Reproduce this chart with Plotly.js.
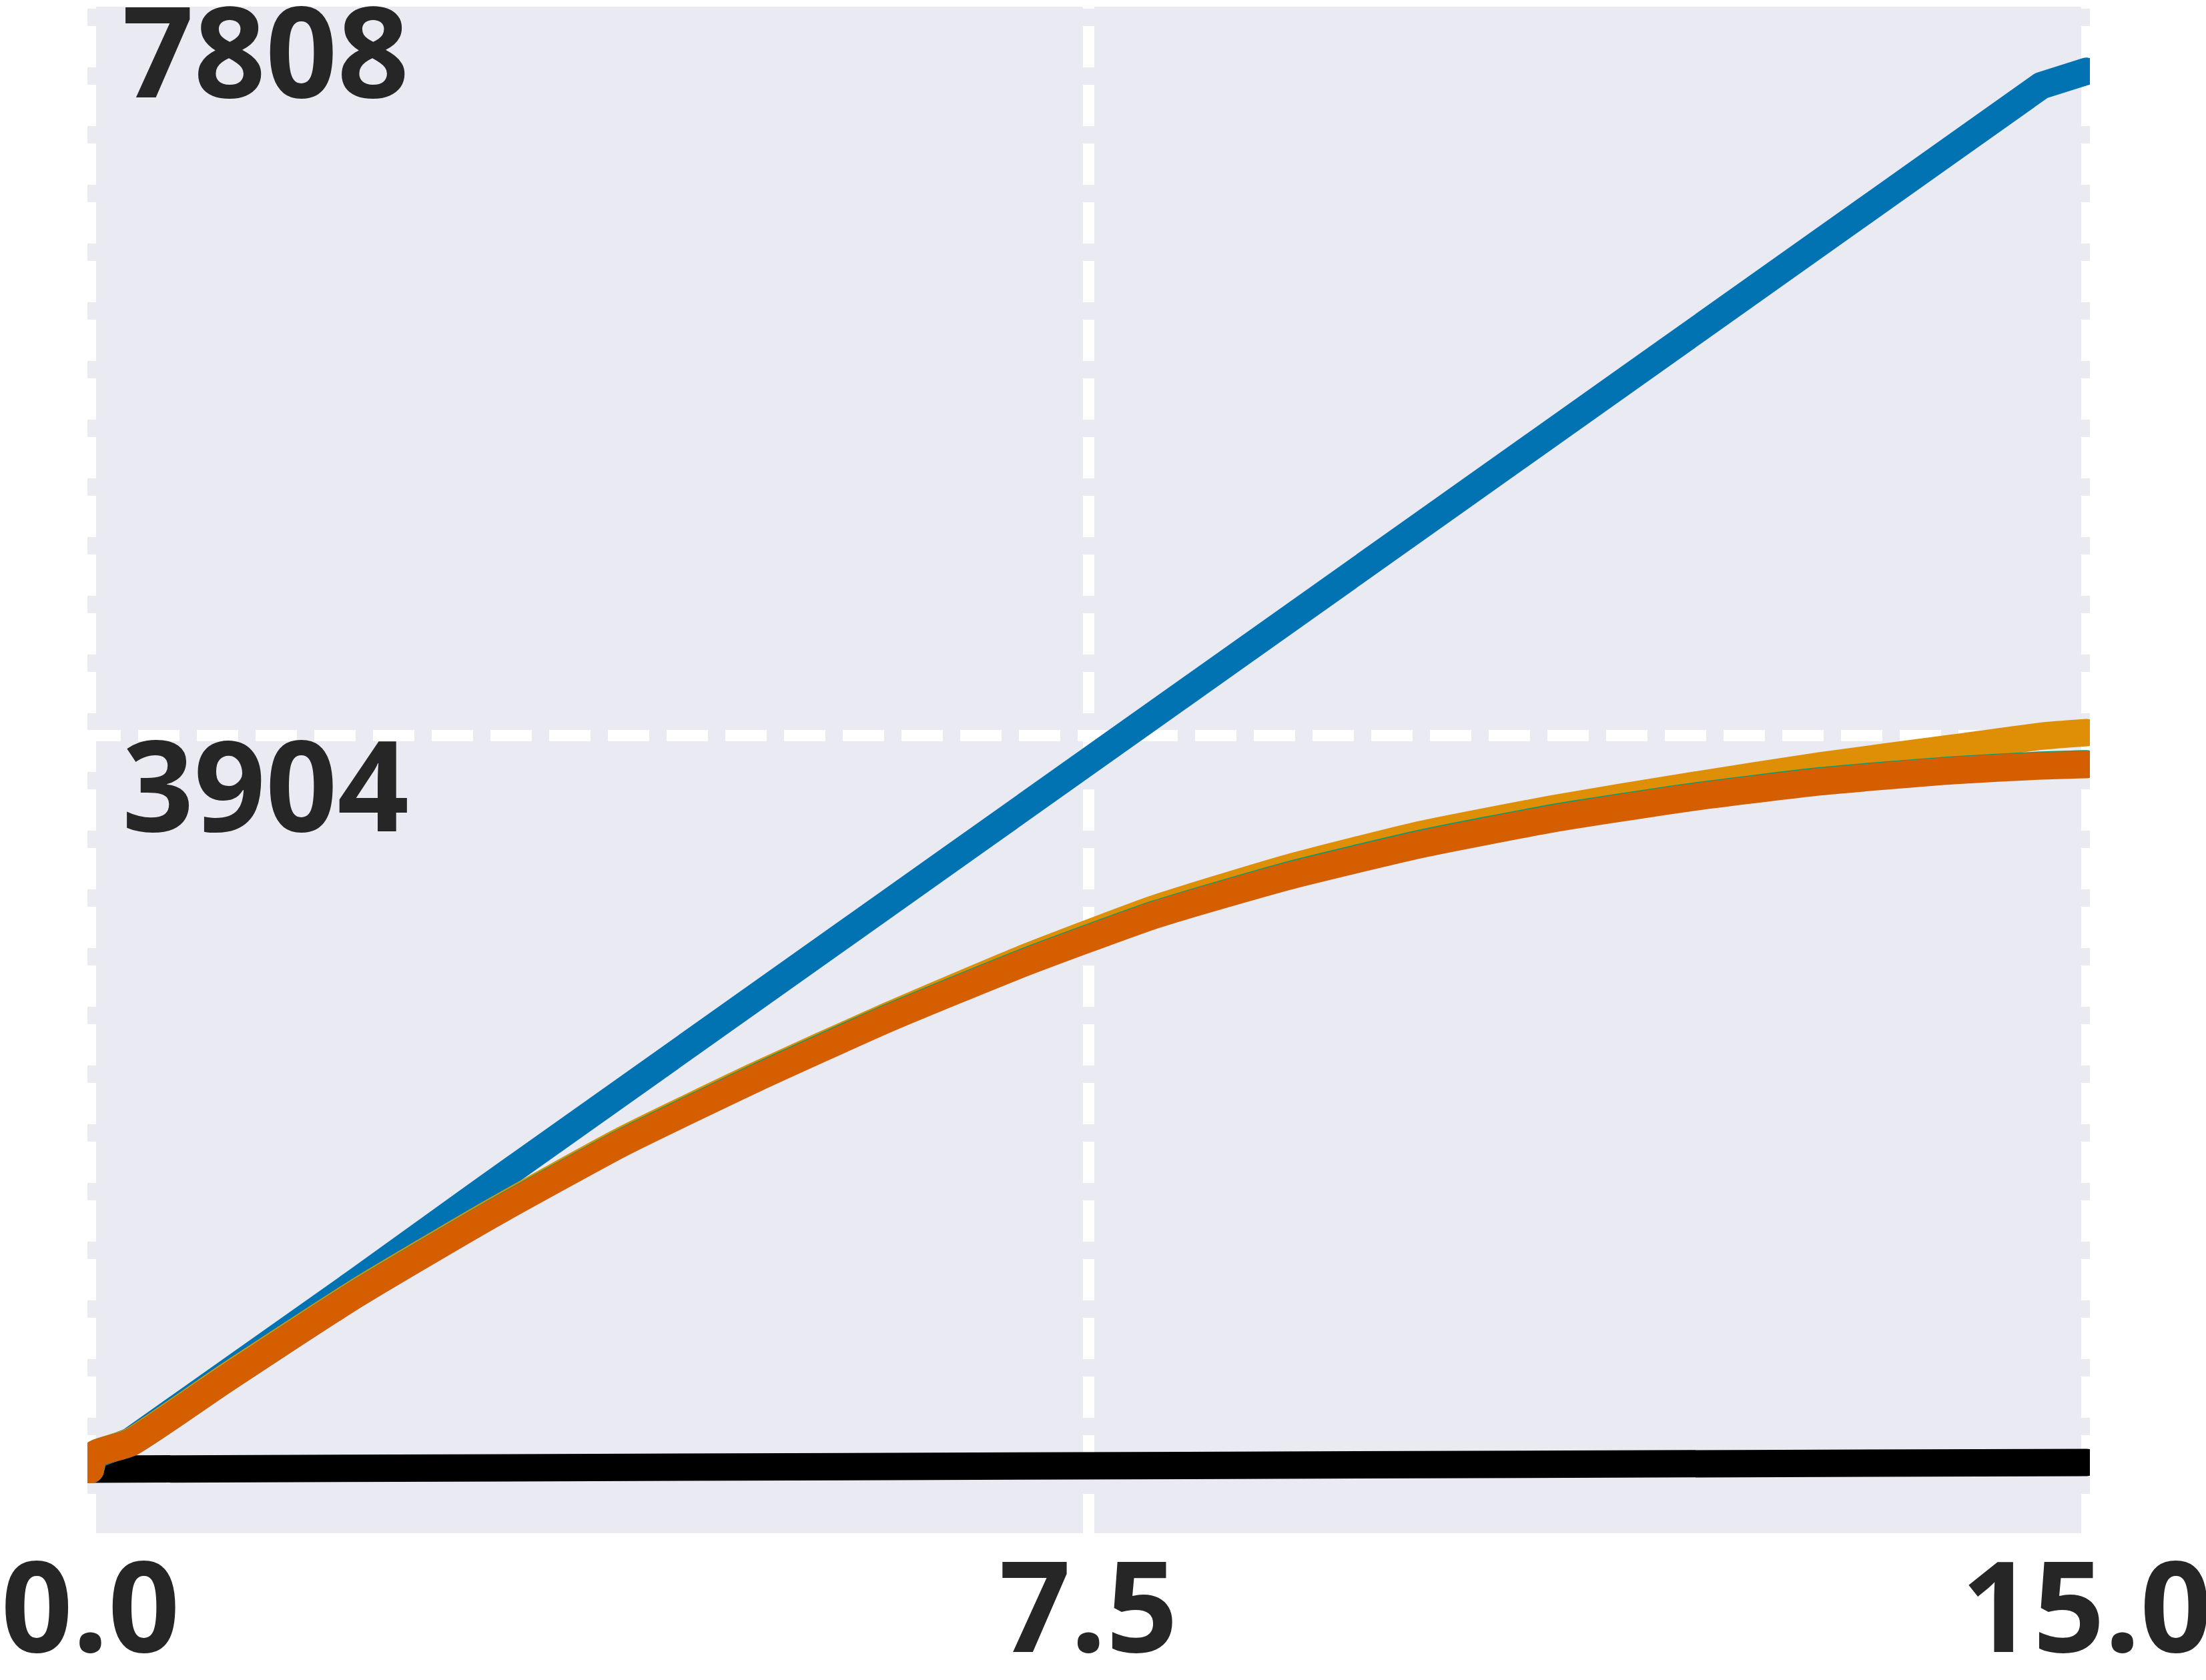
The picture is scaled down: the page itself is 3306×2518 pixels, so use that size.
<!DOCTYPE html>
<html>
<head>
<meta charset="utf-8">
<script src="https://cdn.plot.ly/plotly-3.0.1.min.js"></script>
<style>
  html, body { margin: 0; padding: 0; background: #fff; }
  #chart { width: 3306px; height: 2518px; }
  /* 太線の端と折れ目を丸く */
  .js-line { stroke-linecap: round; stroke-linejoin: round; }
</style>
</head>
<body>
<div id="chart"></div>
<script>
// x 座標（共通）
const X_VALS = [0, 0.03, 0.3, 1, 2, 3, 4, 5, 6, 7, 8, 9, 10, 11, 12, 13, 14, 14.66, 15];

// 各系列の値
const BLUE = [0, 75, 150, 490, 1000, 1509, 2010, 2511, 3012, 3512, 4013, 4514, 5015, 5516, 6016, 6517, 7018, 7360, 7436];
const ORANGE = [0, 80, 148, 483, 943, 1362, 1752, 2095, 2415, 2715, 2983, 3199, 3377, 3515, 3633, 3743, 3837, 3900, 3919];
const GREEN = [0, 80, 143, 474, 935, 1353, 1742, 2085, 2405, 2695, 2954, 3161, 3331, 3468, 3576, 3663, 3721, 3746, 3753];
const VERMILION = [0, 80, 142, 473, 933, 1350, 1738, 2080, 2400, 2690, 2950, 3155, 3325, 3462, 3571, 3658, 3717, 3742, 3749];
const BLACK = [2, 2, 3, 4, 7, 9, 12, 14, 17, 19, 21, 24, 26, 28, 31, 33, 36, 37, 38];

// 目盛り
const X_TICKS = [0, 7.5, 15];
const Y_TICKS = [3904, 7808];

// 描画順：黒が一番下、朱色が一番上。ほぼ直線の系列は折れ線のまま
const SERIES = [
  { y: BLACK, color: '#000000', curved: false },
  { y: BLUE, color: '#0173B2', curved: false },
  { y: ORANGE, color: '#DE8F05', curved: true },
  { y: GREEN, color: '#029E73', curved: true },
  { y: VERMILION, color: '#D55E00', curved: true },
];

const TICK_FONT = { family: '"Noto Sans", "DejaVu Sans", sans-serif', size: 188, color: '#262626', weight: 700 };

const traces = SERIES.map((s) => ({
  x: X_VALS, y: s.y, mode: 'lines', showlegend: false, hoverinfo: 'skip',
  line: s.curved
    ? { color: s.color, width: 41, shape: 'spline', smoothing: 0.5 }
    : { color: s.color, width: 41 },
}));

const layout = {
  width: 3306, height: 2518,
  margin: { l: 131, r: 174, t: 2, b: 220, pad: 0 },
  paper_bgcolor: '#ffffff', plot_bgcolor: '#EAEAF2',
  showlegend: false,
  xaxis: {
    range: [-0.0226, 15.025], tickmode: 'array', tickvals: X_TICKS, tickformat: '.1f',
    showgrid: true, gridcolor: '#ffffff', gridwidth: 17, griddash: '11px,26px,51px,0px',
    zeroline: false, showline: false, ticks: '',
    tickfont: TICK_FONT, ticklabelstandoff: -11, ticklabeloverflow: 'allow',
  },
  yaxis: {
    range: [-338.5, 7808], tickmode: 'array', tickvals: Y_TICKS, tickformat: 'd',
    showgrid: true, gridcolor: '#ffffff', gridwidth: 17, griddash: '50px,26px,12px,0px',
    zeroline: false, showline: false, ticks: '',
    ticklabelposition: 'inside', ticklabelstandoff: 49, ticklabelshift: 78,
    ticklabeloverflow: 'allow', tickfont: TICK_FONT,
  },
  // 上端の細い白帯（背景の上端をそろえる）
  shapes: [{
    type: 'rect', xref: 'paper', yref: 'paper', x0: 0, x1: 1, y0: 1 - 8 / 2296, y1: 1,
    fillcolor: '#ffffff', line: { width: 0 }, layer: 'below',
  }],
};

Plotly.newPlot('chart', traces, layout, { displayModeBar: false, staticPlot: true });
</script>
</body>
</html>
